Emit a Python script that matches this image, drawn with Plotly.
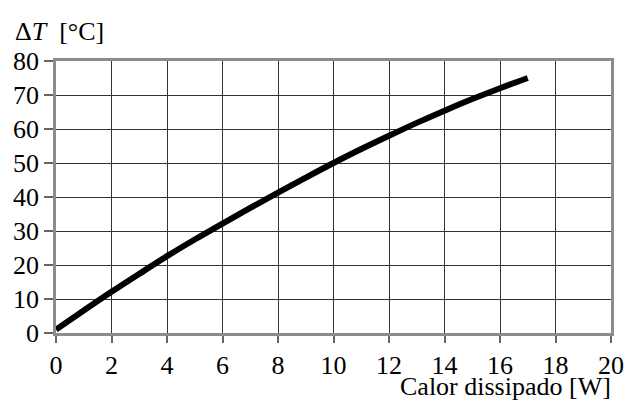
import plotly.graph_objects as go

power_w = [0, 1, 2, 3, 4, 5, 6, 7, 8, 9, 10, 11, 12, 13, 14, 15, 16, 17]
delta_t = [1.0, 6.6, 12.1, 17.4, 22.6, 27.5, 32.2, 36.8, 41.3, 45.7, 50.0, 54.1, 58.0, 61.8, 65.4, 68.8, 72.0, 75.0]

x_ticks = list(range(0, 21, 2))
y_ticks = list(range(0, 81, 10))

FONT = "Liberation Serif"
FSIZE = 26

fig = go.Figure()
fig.add_trace(go.Scatter(
    x=power_w, y=delta_t, mode="lines",
    line=dict(color="black", width=6, shape="spline", smoothing=1.0),
    showlegend=False, hoverinfo="skip",
))

axis_common = dict(
    showgrid=True, gridcolor="#333333", gridwidth=1,
    showline=True, linecolor="#8c8c8c", linewidth=2.5, mirror=True,
    ticks="outside", tickwidth=1.5, tickcolor="#666666",
    zeroline=False, automargin=False,
    tickfont=dict(family=FONT, size=FSIZE, color="black"),
)

fig.update_layout(
    template="none",
    width=625, height=419,
    margin=dict(l=56, r=14, t=61, b=86),
    paper_bgcolor="white", plot_bgcolor="white",
    font=dict(family=FONT, size=FSIZE, color="black"),
    xaxis=dict(range=[0, 20], tickmode="array", tickvals=x_ticks,
               ticktext=[str(v) for v in x_ticks], ticklen=7, **axis_common),
    yaxis=dict(range=[0, 80], tickmode="array", tickvals=y_ticks,
               ticktext=[str(v) for v in y_ticks], ticklen=9, **axis_common),
)

fig.add_annotation(
    x=0, y=1, xref="paper", yref="paper", xanchor="left", yanchor="bottom",
    xshift=-43, yshift=13,
    text="Δ<i>T</i>&nbsp;&nbsp;[°C]", showarrow=False,
    font=dict(family=FONT, size=FSIZE, color="black"),
)
fig.add_annotation(
    x=1, y=0, xref="paper", yref="paper", xanchor="right", yanchor="top",
    yshift=-37, xshift=2,
    text="Calor dissipado [W]", showarrow=False,
    font=dict(family=FONT, size=FSIZE, color="black"),
)

fig.write_html("out.html")
